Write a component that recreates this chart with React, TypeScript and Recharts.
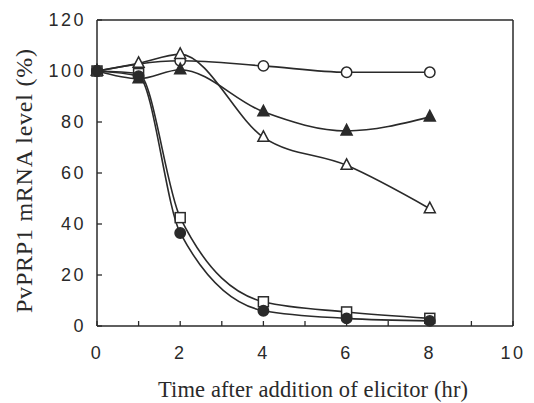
import React from "react";
import { LineChart, Line, XAxis, YAxis } from "recharts";

// ---- data ----
const timeShort = [0, 2, 4, 6, 8];
const openCircleVals = [100, 104, 102, 99.5, 99.5];
const timeFull = [0, 1, 2, 4, 6, 8];
const openTriangleVals = [100, 103, 106.5, 74, 63, 46];
const filledTriangleVals = [100, 97, 100.5, 84, 76.5, 82];
const openSquareVals = [100, 99, 42.5, 9.5, 5.5, 3];
const filledCircleVals = [100, 98, 36.5, 6, 3, 2];

const xTicks = [0, 1, 2, 3, 4, 5, 6, 7, 8, 9, 10];
const xTickLabels = ["0", "", "2", "", "4", "", "6", "", "8", "", "10"];
const yTicks = [0, 20, 40, 60, 80, 100, 120];
const xTitle = "Time after addition of elicitor (hr)";
const yTitle = "PvPRP1 mRNA level (%)";

const toRows = (xs: number[], ys: number[]) => xs.map((t, i) => ({ t, v: ys[i] }));

const INK = "#2a2a2a";

type Shape = "circle" | "triangle" | "square";

const marker = (shape: Shape, filled: boolean, name: string) => (props: any) => {
  const { cx, cy, index } = props;
  const key = `${name}-${index}`;
  if (cx == null || cy == null) return <g key={key} />;
  const fill = filled ? INK : "#fff";
  if (shape === "circle") {
    return <circle key={key} cx={cx} cy={cy} r={5.2} fill={fill} stroke={INK} strokeWidth={1.5} />;
  }
  if (shape === "square") {
    return <rect key={key} x={cx - 5} y={cy - 5} width={10} height={10} fill={fill} stroke={INK} strokeWidth={1.5} />;
  }
  const pts = `${cx},${cy - 6.5} ${cx - 5.5},${cy + 4} ${cx + 5.5},${cy + 4}`;
  return <polygon key={key} points={pts} fill={fill} stroke={INK} strokeWidth={1.5} strokeLinejoin="miter" />;
};

const tickFont = {
  fontFamily: "'Liberation Sans', Arial, Helvetica, sans-serif",
  fontSize: 18,
  fill: INK,
  letterSpacing: 2.5,
};

const renderXTitle = () => (
  <text
    x={313}
    y={397}
    textAnchor="middle"
    fontFamily="'Liberation Serif', 'Times New Roman', serif"
    fontSize={22.5}
    fill={INK}
    textLength={310}
    lengthAdjust="spacing"
  >
    {xTitle}
  </text>
);

const renderYTitle = () => (
  <text
    x={32}
    y={181}
    transform="rotate(-90, 32, 181)"
    textAnchor="middle"
    fontFamily="'Liberation Serif', 'Times New Roman', serif"
    fontSize={24}
    fill={INK}
    textLength={264}
    lengthAdjust="spacing"
  >
    {yTitle}
  </text>
);

const series: { xs: number[]; ys: number[]; shape: Shape; filled: boolean; name: string }[] = [
  { xs: timeShort, ys: openCircleVals, shape: "circle", filled: false, name: "oc" },
  { xs: timeFull, ys: openTriangleVals, shape: "triangle", filled: false, name: "ot" },
  { xs: timeFull, ys: filledTriangleVals, shape: "triangle", filled: true, name: "ft" },
  { xs: timeFull, ys: openSquareVals, shape: "square", filled: false, name: "os" },
  { xs: timeFull, ys: filledCircleVals, shape: "circle", filled: true, name: "fc" },
];

export default function App() {
  return (
    <div style={{ position: "absolute", left: 0, top: 0, width: 534, height: 403, background: "#fff" }}>
      <LineChart width={534} height={403} margin={{ top: 0, right: 0, bottom: 0, left: 0 }}>
        <XAxis
          xAxisId="main"
          dataKey="t"
          type="number"
          domain={[0, 10]}
          ticks={xTicks}
          tickFormatter={(v: number) => xTickLabels[xTicks.indexOf(v)] ?? ""}
          interval={0}
          height={77}
          tickSize={-5}
          tickMargin={25}
          tick={tickFont}
          axisLine={{ stroke: INK, strokeWidth: 1.5 }}
          tickLine={{ stroke: INK, strokeWidth: 1.3 }}
          allowDuplicatedCategory={false}
          label={renderXTitle}
        />
        <XAxis
          xAxisId="top"
          orientation="top"
          dataKey="t"
          type="number"
          domain={[0, 10]}
          ticks={xTicks}
          interval={0}
          height={20}
          tickSize={-5}
          tick={false}
          axisLine={{ stroke: INK, strokeWidth: 1.5 }}
          tickLine={{ stroke: INK, strokeWidth: 1.3 }}
        />
        <YAxis
          yAxisId="main"
          type="number"
          domain={[0, 120]}
          ticks={yTicks}
          interval={0}
          width={97}
          tickSize={-5}
          tickMargin={16}
          tick={tickFont}
          axisLine={{ stroke: INK, strokeWidth: 1.5 }}
          tickLine={{ stroke: INK, strokeWidth: 1.3 }}
          label={renderYTitle}
        />
        <YAxis
          yAxisId="right"
          orientation="right"
          type="number"
          domain={[0, 120]}
          ticks={yTicks}
          interval={0}
          width={21}
          tickSize={-5}
          tick={false}
          axisLine={{ stroke: INK, strokeWidth: 1.5 }}
          tickLine={{ stroke: INK, strokeWidth: 1.3 }}
        />
        {series.map((s) => (
          <Line
            key={s.name}
            xAxisId="main"
            yAxisId="main"
            data={toRows(s.xs, s.ys)}
            dataKey="v"
            type="monotone"
            stroke={INK}
            strokeWidth={1.6}
            dot={marker(s.shape, s.filled, s.name)}
            activeDot={false}
            isAnimationActive={false}
            legendType="none"
          />
        ))}
      </LineChart>
    </div>
  );
}
